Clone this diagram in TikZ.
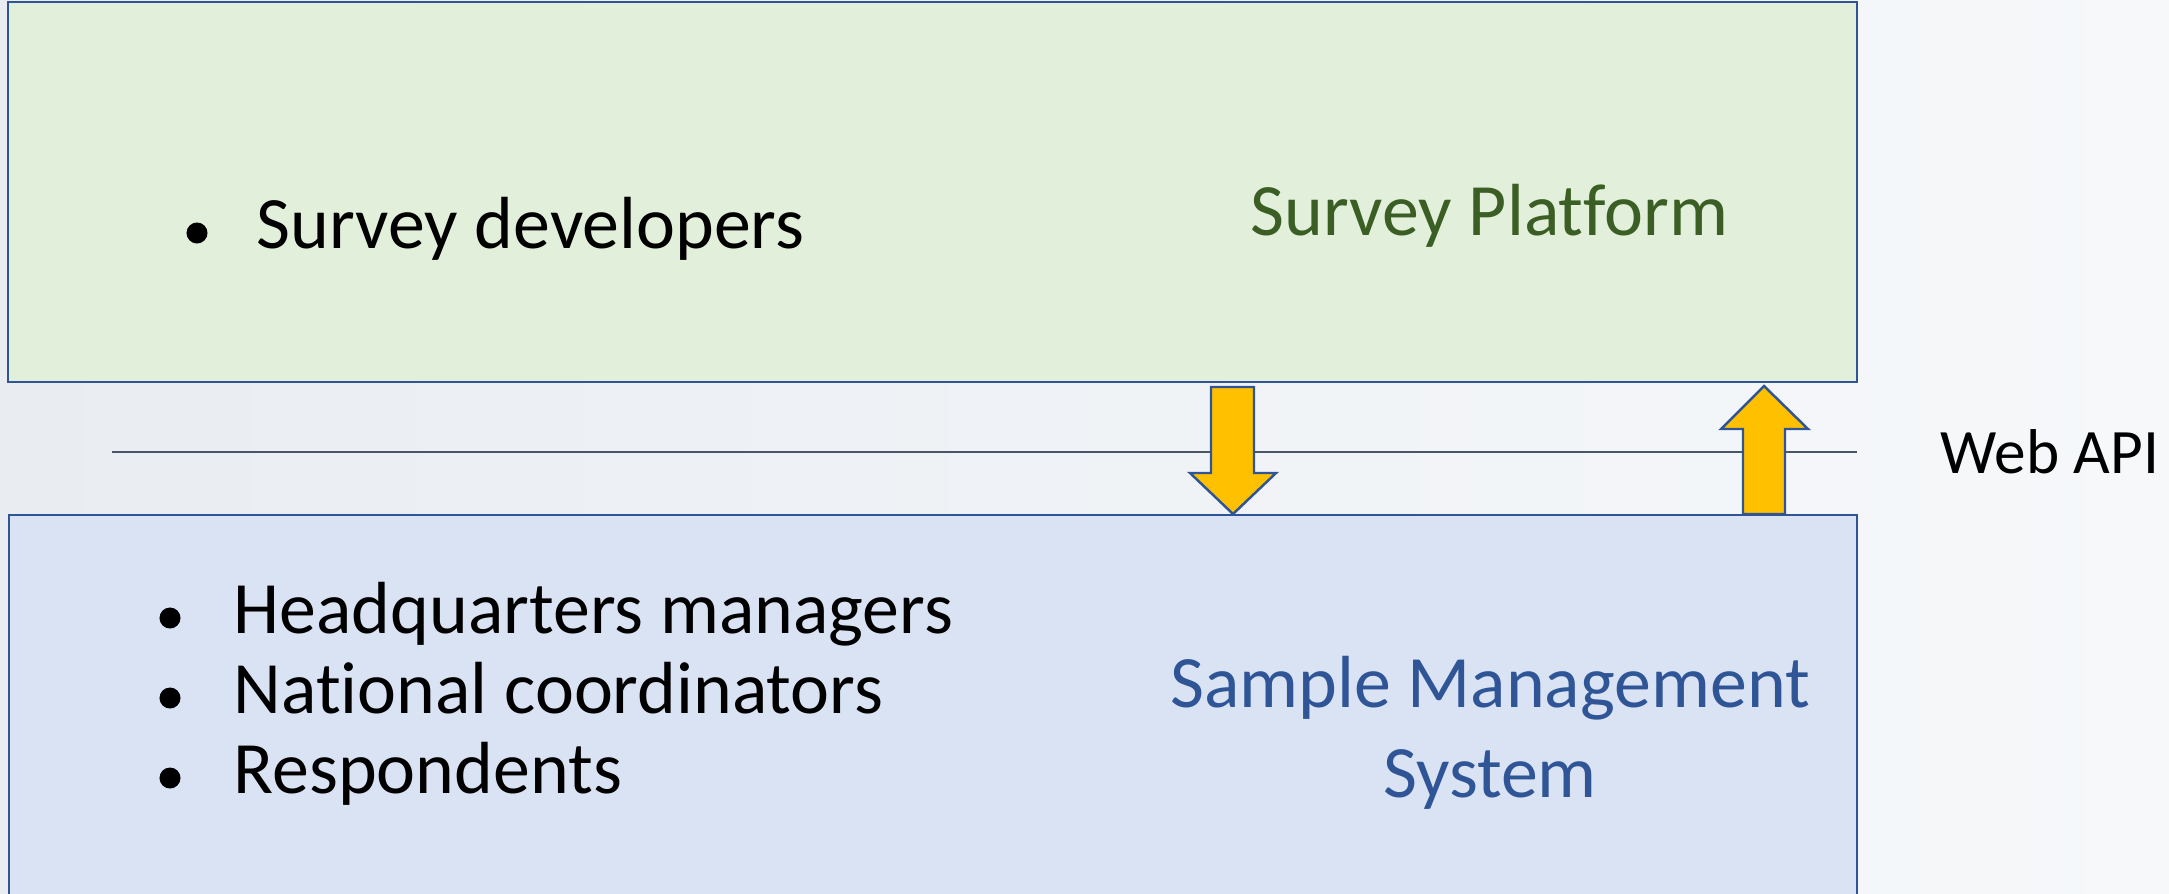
\documentclass[tikz,border=0pt]{standalone}
\usepackage{fontspec}
\setmainfont{Carlito}[Ligatures=CommonOff]
\definecolor{platformgreen}{HTML}{E2EFDA}
\definecolor{smsblue}{HTML}{DAE3F3}
\definecolor{boxblue}{HTML}{2F5597}
\definecolor{titlegreen}{HTML}{3B5E24}
\definecolor{arrowgold}{HTML}{FFC000}
\definecolor{apigray}{HTML}{4A5568}
\definecolor{bgleft}{HTML}{E9EDF2}
\definecolor{bgright}{HTML}{F6F8FA}

\begin{document}
\begin{tikzpicture}[x=0.01cm,y=0.01cm,
        box/.style={draw=boxblue,line width=0.8pt},
        item/.style={anchor=base west,inner sep=0pt,
            font=\fontsize{21}{25}\selectfont},
        blockarrow/.style={fill=arrowgold,draw=boxblue,line width=0.7pt}]
        \useasboundingbox (0,0) rectangle (2169,893);
        \clip (0,0) rectangle (2169,893);

        % Background
        \shade [left color=bgleft,right color=bgright] (0,0) rectangle (2169,893);

        % Boxes
        \path [box,fill=platformgreen] (8,511) rectangle (1857,891);
        \path [box,fill=smsblue] (9,-10) rectangle (1857,378);

        % Web API line
        \draw [apigray,line width=0.5pt] (112,441) -- (1857,441);

        % Arrows
        \path [blockarrow] (1211,506) -- (1254,506) -- (1254,420) --
            (1276,420) -- (1233,379) -- (1190,420) -- (1211,420) -- cycle;
        \path [blockarrow] (1743,379) -- (1785,379) -- (1785,464) --
            (1808,464) -- (1764,507) -- (1721,464) -- (1743,464) -- cycle;

        % Labels
        \node [item] (dev) at (256,645) {Survey developers};
        \fill (197,660) circle (0.105cm);
        \node [item,text=titlegreen] (platform) at (1250,658) {Survey Platform};

        \node [item] (hq) at (233,260) {Headquarters managers};
        \node [item] (nat) at (233,180) {National coordinators};
        \node [item] (resp) at (233,100) {Respondents};
        \fill (170,275) circle (0.105cm);
        \fill (170,195) circle (0.105cm);
        \fill (170,115) circle (0.105cm);
        \node [align=center,inner sep=0pt,text=boxblue,
            font=\fontsize{21}{25.6}\selectfont] (sms) at (1490,160)
            {Sample Management\\System};

        \node [item,font=\fontsize{18}{22}\selectfont] (api) at (1940,420) {Web API};
    \end{tikzpicture}
\end{document}
